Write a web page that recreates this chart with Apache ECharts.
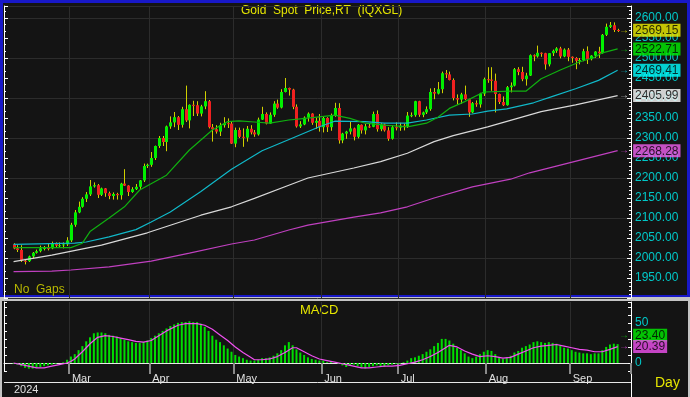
<!DOCTYPE html>
<html>
<head>
<meta charset="utf-8">
<script src="https://cdn.jsdelivr.net/npm/echarts@6/dist/echarts.min.js"></script>
<style>
  html, body { margin: 0; padding: 0; background: #141414; }
  #chart { width: 690px; height: 397px; }
</style>
</head>
<body>
<div id="chart"></div>
<script>
// trading days (weekdays, no gaps) Feb 9 .. Sep 18 2024
var days = [];
for (var t = Date.UTC(2024, 1, 9); t <= Date.UTC(2024, 8, 18); t += 86400000) {
  var wd = new Date(t).getUTCDay();
  if (wd !== 0 && wd !== 6) days.push(new Date(t).toISOString().slice(0, 10));
}
var monthNames = ['Jan', 'Feb', 'Mar', 'Apr', 'May', 'Jun', 'Jul', 'Aug', 'Sep', 'Oct', 'Nov', 'Dec'];

// daily candles: [open, close, low, high]
var candles = [
  [2034,2024,2022,2037],[2024,2020,2015,2032],[2020,1993,1990,2032],[1993,1992,1984,1996],[1992,2004,1990,2006],
  [2004,2013,1998,2015],[2013,2017,2011,2021],[2017,2024,2014,2031],[2024,2025,2019,2030],[2025,2024,2019,2035],
  [2024,2035,2022,2041],[2035,2031,2025,2039],[2031,2032,2027,2039],[2032,2034,2024,2039],[2034,2044,2030,2052],
  // Mar
  [2044,2083,2040,2088],[2083,2114,2078,2120],[2114,2128,2112,2141],[2128,2148,2126,2152],[2148,2159,2140,2165],
  [2159,2179,2155,2195],[2179,2182,2176,2189],[2182,2158,2150,2185],[2158,2174,2155,2176],[2174,2162,2153,2175],
  [2162,2155,2147,2166],[2155,2160,2146,2164],[2160,2157,2146,2163],[2157,2186,2146,2188],[2186,2181,2180,2222],
  [2181,2165,2155,2182],[2165,2172,2163,2177],[2172,2178,2170,2185],[2178,2194,2173,2195],[2194,2230,2190,2236],
  [2230,2233,2225,2236],
  // Apr
  [2233,2250,2228,2265],[2250,2280,2245,2281],[2280,2300,2275,2305],[2300,2290,2280,2305],[2290,2329,2267,2331],
  [2329,2339,2323,2354],[2339,2352,2327,2365],[2352,2333,2320,2355],[2333,2372,2326,2378],[2372,2344,2340,2431],
  [2344,2383,2324,2384],[2383,2382,2355,2393],[2382,2361,2355,2392],[2361,2379,2354,2383],[2379,2392,2372,2417],
  [2392,2327,2324,2395],[2327,2322,2291,2335],[2322,2316,2311,2332],[2316,2332,2305,2338],[2332,2337,2326,2352],
  [2337,2336,2325,2349],[2336,2286,2285,2340],
  // May
  [2286,2320,2277,2326],[2320,2303,2300,2326],[2303,2301,2278,2324],[2301,2323,2291,2330],[2323,2314,2309,2332],
  [2314,2309,2303,2320],[2309,2346,2306,2351],[2346,2360,2345,2378],[2360,2336,2334,2364],[2336,2358,2335,2364],
  [2358,2386,2353,2392],[2386,2376,2373,2396],[2376,2415,2374,2422],[2415,2425,2414,2450],[2425,2421,2406,2426],
  [2421,2378,2372,2423],[2378,2329,2326,2384],[2329,2334,2325,2342],[2334,2351,2332,2354],[2351,2361,2341,2364],
  [2361,2338,2333,2362],[2338,2343,2323,2351],[2343,2327,2316,2360],
  // Jun
  [2327,2350,2314,2354],[2350,2327,2315,2352],[2327,2355,2318,2361],[2355,2375,2353,2388],[2375,2294,2286,2387],
  [2294,2311,2287,2313],[2311,2316,2298,2318],[2316,2324,2309,2342],[2324,2303,2294,2326],[2303,2333,2299,2335],
  [2333,2319,2311,2334],[2319,2329,2309,2335],[2329,2328,2325,2336],[2328,2360,2327,2366],[2360,2322,2316,2369],
  [2322,2334,2317,2337],[2334,2319,2316,2336],[2319,2298,2293,2327],[2298,2327,2296,2332],[2327,2326,2319,2339],
  // Jul
  [2326,2331,2318,2338],[2331,2330,2319,2336],[2330,2356,2325,2365],[2356,2357,2352,2364],[2357,2392,2353,2393],
  [2392,2358,2353,2393],[2358,2364,2352,2366],[2364,2372,2360,2379],[2372,2415,2368,2424],[2415,2411,2397,2425],
  [2411,2422,2409,2440],[2422,2462,2412,2466],[2462,2459,2450,2470],[2459,2445,2444,2466],[2445,2400,2394,2449],
  [2400,2396,2384,2409],[2396,2409,2385,2413],[2409,2397,2395,2431],[2397,2364,2353,2398],[2364,2387,2362,2390],
  [2387,2384,2378,2394],[2384,2411,2376,2413],[2411,2447,2405,2451],
  // Aug
  [2447,2446,2438,2477],[2446,2443,2418,2477],[2443,2410,2364,2461],[2410,2390,2385,2411],[2390,2382,2380,2404],
  [2382,2427,2381,2430],[2427,2431,2414,2439],[2431,2472,2429,2475],[2472,2465,2457,2477],[2465,2447,2442,2478],
  [2447,2456,2431,2463],[2456,2507,2455,2509],[2507,2504,2492,2509],[2504,2513,2501,2531],[2513,2512,2503,2514],
  [2512,2484,2471,2513],[2484,2512,2479,2512],[2512,2518,2505,2521],[2518,2524,2513,2527],[2524,2504,2499,2528],
  [2504,2521,2502,2524],[2521,2503,2492,2525],
  // Sep
  [2503,2500,2488,2504],[2500,2493,2472,2502],[2493,2495,2484,2500],[2495,2517,2492,2523],[2517,2497,2485,2529],
  [2497,2506,2494,2507],[2506,2516,2500,2517],[2516,2512,2500,2528],[2512,2558,2511,2560],[2558,2578,2555,2586],
  [2578,2582,2575,2590],[2582,2570,2565,2589],[2570,2569.15,2565,2573]
];

// moving averages: [day index, value]
var ma20 = [[0,2026],[15,2026],[18,2037],[20,2066],[25,2100],[29,2128],[33,2170],[40,2207],[46,2270],[52,2320],
  [56,2341],[59,2343],[63,2340],[67,2337],[72,2345],[75,2348],[80,2353],[84,2357],[88,2349],[92,2337],[97,2332],
  [103,2328],[108,2337],[111,2352],[114,2374],[118,2391],[123,2415],[130,2417],[134,2417],[138,2448],[143,2470],
  [148,2490],[152,2502],[154,2513],[158,2522.71]];
var ma50 = [[0,2034],[16,2037],[19,2040],[25,2053],[32,2071],[36,2090],[41,2115],[49,2166],[57,2222],[65,2268],
  [73,2300],[80,2328],[84,2342],[92,2341],[97,2337],[103,2337],[108,2345],[114,2357],[120,2360],[124,2367],
  [129,2373],[136,2388],[141,2404],[147,2423],[153,2444],[158,2469.41]];
var ma100 = [[0,1991],[10,2007],[23,2032],[35,2063],[49,2107],[57,2128],[63,2149],[72,2182],[77,2200],[89,2225],
  [96,2241],[103,2262],[110,2291],[115,2306],[124,2328],[138,2366],[147,2383],[158,2405.99]];
var ma200 = [[0,1966],[10,1967],[15,1970],[25,1978],[36,1992],[46,2012],[57,2035],[63,2045],[72,2070],[77,2082],
  [89,2102],[96,2113],[103,2128],[110,2150],[120,2178],[130,2197],[135,2213],[158,2268.28]];

// MACD (bars) one per day, and its signal line [day index, value]
var macd = [
  -1,-2,-4,-6,-7,-7,-6,-5,-4,-3,-2,-1,0,1,4,
  8,11,16,21,27,32,37,38,38,37,35,34,33,31,29,27,26,25,25,26,28,
  31,34,37,40,43,46,48,50,51,51,52,51,51,49,45,40,34,29,26,22,18,14,
  10,8,6,4,3,3,4,6,6,7,9,12,16,22,26,22,17,13,10,7,5,4,3,
  3,1,2,0,-1,-3,-5,-3,-2,-4,-6,-7,-5,-4,-3,-4,-5,-3,-2,-1,
  -1,1,3,6,7,9,11,14,17,21,25,30,30,28,24,19,16,12,8,6,8,11,14,
  16,15,11,7,5,7,9,13,15,19,21,23,26,27,26,25,26,25,24,22,19,18,
  16,14,13,12,12,11,12,12,16,20,23,24,23.4
];
var signal = [[0,0],[3,-3],[6,-6],[8,-6],[10,-4],[12,-2],[14,0],[15,2],[16,5],[18,14],[20,24],[22,32],[24,34],
  [26,33],[28,31],[30,29],[32,27],[34,26],[36,28],[38,34],[40,40],[43,47],[45,49],[48,49],[50,47],[52,42],[54,35],
  [56,28],[58,20],[60,13],[62,7],[63,4],[65,4],[67,5],[69,8],[71,13],[73,19],[74,19],[76,14],[78,9],[80,5],[82,3],
  [84,1],[86,-1],[88,-3],[91,-6],[93,-6],[95,-5],[97,-4],[99,-4],[101,-3],[103,-1],[105,1],[107,4],[109,8],
  [111,13],[113,19],[114,22],[116,20],[118,15],[120,11],[122,8],[124,9],[126,8],[128,6],[130,7],[132,11],
  [134,15],[136,19],[138,21],[140,22],[142,23],[144,21],[146,19],[148,17],[150,16],[152,14],[154,14],[156,17],
  [158,20.39]];

var LEAD = 2, TRAIL = 3;
var cats = ['', ''].concat(days, ['', '', '']);
var FONT = 'Liberation Sans, Arial, sans-serif';
var GRIDC = '#2c2c2c';

function monthStart(i) {
  var d = i - LEAD;
  return d > 0 && d < days.length && days[d].slice(5, 7) !== days[d - 1].slice(5, 7);
}
function shift(arr) { return arr.map(function (p) { return [p[0] + LEAD, p[1]]; }); }
function last(arr) { return arr[arr.length - 1]; }

function tag(idx, value, text, lineColor, bg, dy) {
  return {
    value: [idx + LEAD, value],
    label: {
      show: true, position: 'right', distance: 1, offset: [0, dy || 0],
      formatter: '{a|\u2192}{b|' + text + '}',
      rich: {
        a: { color: lineColor, fontSize: 10, width: 14, fontFamily: FONT },
        b: { color: '#000', backgroundColor: bg, fontSize: 12, fontFamily: FONT, padding: [1, 2, 0, 2] }
      }
    }
  };
}

var nLast = days.length - 1;
var lastCandle = last(candles);

var chart = echarts.init(document.getElementById('chart'));
chart.setOption({
  backgroundColor: '#141414',
  animation: false,
  grid: [
    { left: 4, right: 59, top: 6, bottom: 99 },
    { left: 4, right: 59, top: 302, bottom: 26 }
  ],
  xAxis: [
    {
      type: 'category', gridIndex: 0, data: cats, boundaryGap: true,
      axisLine: { show: false }, axisTick: { show: false }, axisLabel: { show: false },
      splitLine: { show: true, interval: monthStart, lineStyle: { color: GRIDC, width: 1 } }
    },
    {
      type: 'category', gridIndex: 1, data: cats, boundaryGap: true,
      axisLine: { show: true, lineStyle: { color: '#e8e8e8', width: 1 } },
      axisTick: { show: true, interval: monthStart, length: 11, lineStyle: { color: '#8a8a8a', width: 2 } },
      axisLabel: {
        show: true, interval: monthStart, color: '#e0e0e0', fontSize: 11, fontFamily: FONT,
        align: 'left', margin: 2, padding: [0, 0, 0, 1],
        formatter: function (v) { return v ? monthNames[+v.slice(5, 7) - 1] : ''; }
      },
      splitLine: { show: true, interval: monthStart, lineStyle: { color: GRIDC, width: 1 } }
    }
  ],
  yAxis: [
    {
      type: 'value', gridIndex: 0, position: 'right', min: 1900, max: 2630, interval: 50,
      axisLine: { show: true, lineStyle: { color: '#ffffff' } },
      axisTick: { show: true, inside: true, length: 4, lineStyle: { color: '#ffffff' } },
      minorTick: { show: true, splitNumber: 5, length: 2, lineStyle: { color: '#ffffff' } },
      axisLabel: {
        color: '#00c8c8', fontSize: 12, fontFamily: FONT, margin: 4,
        formatter: function (v) { return (v >= 1950 && v <= 2600 && v % 50 === 0) ? v.toFixed(2) : ''; }
      },
      splitLine: { show: false }
    },
    {
      type: 'value', gridIndex: 0, position: 'left', min: 1900, max: 2630, interval: 50,
      axisLine: { show: true, lineStyle: { color: '#ffffff' } },
      axisTick: { show: true, inside: true, length: 4, lineStyle: { color: '#ffffff' } },
      minorTick: { show: true, splitNumber: 3, length: 2, lineStyle: { color: '#ffffff' } },
      axisLabel: { show: false }, splitLine: { show: false }
    },
    {
      type: 'value', gridIndex: 0, position: 'right', min: 1900, max: 2630, interval: 100,
      axisLine: { show: false }, axisTick: { show: false }, axisLabel: { show: false },
      splitLine: { show: true, lineStyle: { color: GRIDC, width: 1 } }
    },
    {
      type: 'value', gridIndex: 1, position: 'right', min: -10, max: 76, interval: 10,
      axisLine: { show: true, lineStyle: { color: '#ffffff' } },
      axisTick: { show: true, inside: true, length: 3, lineStyle: { color: '#ffffff' } },
      axisLabel: {
        color: '#00c8c8', fontSize: 12, fontFamily: FONT, margin: 4,
        formatter: function (v) { return (v === 0 || v === 50) ? String(v) : ''; }
      },
      splitLine: { show: false }
    },
    {
      type: 'value', gridIndex: 1, position: 'left', min: -10, max: 76, interval: 10,
      axisLine: { show: true, lineStyle: { color: '#ffffff' } },
      axisTick: { show: true, inside: true, length: 3, lineStyle: { color: '#ffffff' } },
      axisLabel: { show: false }, splitLine: { show: false }
    }
  ],
  series: [
    {
      name: 'ma200', type: 'line', xAxisIndex: 0, yAxisIndex: 0, data: shift(ma200),
      symbol: 'none', silent: true, lineStyle: { color: '#c040c0', width: 1.2 }
    },
    {
      name: 'ma100', type: 'line', xAxisIndex: 0, yAxisIndex: 0, data: shift(ma100),
      symbol: 'none', silent: true, lineStyle: { color: '#d8d8d8', width: 1.2 }
    },
    {
      name: 'ma50', type: 'line', xAxisIndex: 0, yAxisIndex: 0, data: shift(ma50),
      symbol: 'none', silent: true, lineStyle: { color: '#10b8c8', width: 1.2 }
    },
    {
      name: 'ma20', type: 'line', xAxisIndex: 0, yAxisIndex: 0, data: shift(ma20),
      symbol: 'none', silent: true, lineStyle: { color: '#10b010', width: 1.2 }
    },
    {
      name: 'price', type: 'custom', xAxisIndex: 0, yAxisIndex: 0,
      data: candles.map(function (c, i) { return [i + LEAD, c[0], c[1], c[2], c[3]]; }),
      encode: { x: 0, y: [1, 2, 3, 4] },
      renderItem: function (params, api) {
        var x = api.value(0), o = api.value(1), c = api.value(2);
        var pO = api.coord([x, o]), pC = api.coord([x, c]);
        var pL = api.coord([x, api.value(3)]), pH = api.coord([x, api.value(4)]);
        var cx = Math.round(pO[0]);
        var top = Math.min(pO[1], pC[1]);
        var h = Math.max(Math.abs(pO[1] - pC[1]), 1);
        return {
          type: 'group',
          children: [
            { type: 'line', shape: { x1: cx + 0.5, y1: pH[1], x2: cx + 0.5, y2: pL[1] },
              style: { stroke: '#d0d000', lineWidth: 1 } },
            { type: 'rect', shape: { x: cx - 1, y: top, width: 3, height: h },
              style: { fill: c >= o ? '#00f000' : '#f02020' } }
          ]
        };
      }
    },
    {
      name: 'tags', type: 'scatter', xAxisIndex: 0, yAxisIndex: 0, symbolSize: 1,
      itemStyle: { color: 'rgba(0,0,0,0)' }, silent: true, z: 10,
      data: [
        tag(nLast, lastCandle[1], lastCandle[1].toFixed(2), '#e8e800', '#f0f000'),
        tag(nLast, last(ma20)[1], last(ma20)[1].toFixed(2), '#10c010', '#00ee00'),
        tag(nLast, last(ma50)[1], last(ma50)[1].toFixed(2), '#10c8d8', '#00ffff'),
        tag(nLast, last(ma100)[1], last(ma100)[1].toFixed(2), '#e8e8e8', '#ffffff'),
        tag(nLast, last(ma200)[1], last(ma200)[1].toFixed(2), '#e050e0', '#f060f0')
      ]
    },
    {
      name: 'MACD', type: 'bar', xAxisIndex: 1, yAxisIndex: 3,
      data: macd.map(function (v, i) { return [i + LEAD, v]; }),
      barWidth: 2, silent: true, itemStyle: { color: '#00dd00' }
    },
    {
      name: 'signal', type: 'line', xAxisIndex: 1, yAxisIndex: 3, data: shift(signal),
      symbol: 'none', silent: true, lineStyle: { color: '#f050f0', width: 1.2 }
    },
    {
      name: 'macdTags', type: 'scatter', xAxisIndex: 1, yAxisIndex: 3, symbolSize: 1,
      itemStyle: { color: 'rgba(0,0,0,0)' }, silent: true, z: 10,
      data: [
        tag(nLast, last(macd), last(macd).toFixed(2), '#10c010', '#00ee00', -9),
        tag(nLast, last(signal)[1], last(signal)[1].toFixed(2), '#f050f0', '#f050f0')
      ]
    }
  ],
  graphic: [
    // frame
    { type: 'rect', shape: { x: 0, y: 0, width: 690, height: 3 }, style: { fill: '#1818c8' }, silent: true },
    { type: 'rect', shape: { x: 0, y: 0, width: 3, height: 297 }, style: { fill: '#1818c8' }, silent: true },
    { type: 'rect', shape: { x: 687, y: 0, width: 3, height: 297 }, style: { fill: '#1818c8' }, silent: true },
    { type: 'rect', shape: { x: 0, y: 295, width: 690, height: 2 }, style: { fill: '#1818c8' }, silent: true },
    { type: 'rect', shape: { x: 0, y: 297, width: 690, height: 4 }, style: { fill: '#c4c4c4' }, silent: true },
    { type: 'rect', shape: { x: 0, y: 301, width: 2, height: 96 }, style: { fill: '#c4c4c4' }, silent: true },
    { type: 'rect', shape: { x: 688, y: 301, width: 2, height: 96 }, style: { fill: '#c4c4c4' }, silent: true },
    { type: 'line', shape: { x1: 4, y1: 382.5, x2: 631, y2: 382.5 }, style: { stroke: '#e8e8e8', lineWidth: 1 }, silent: true },
    { type: 'line', shape: { x1: 631.5, y1: 371, x2: 631.5, y2: 397 }, style: { stroke: '#ffffff', lineWidth: 1 }, silent: true },
    // texts
    { type: 'text', left: 241, top: 5, silent: true,
      style: { text: 'Gold  Spot  Price,RT  (IQXGL)', fill: '#e6e600', font: '12px ' + FONT } },
    { type: 'text', left: 14, top: 284, silent: true,
      style: { text: 'No  Gaps', fill: '#b8b800', font: '12px ' + FONT } },
    { type: 'text', left: 300, top: 304, silent: true,
      style: { text: 'MACD', fill: '#e6e600', font: '13px ' + FONT } },
    { type: 'text', left: 655, top: 376, silent: true,
      style: { text: 'Day', fill: '#e6e600', font: '14px ' + FONT } },
    { type: 'text', left: 14, top: 384, silent: true,
      style: { text: '2024', fill: '#e0e0e0', font: '11px ' + FONT } }
  ]
});
</script>
</body>
</html>
